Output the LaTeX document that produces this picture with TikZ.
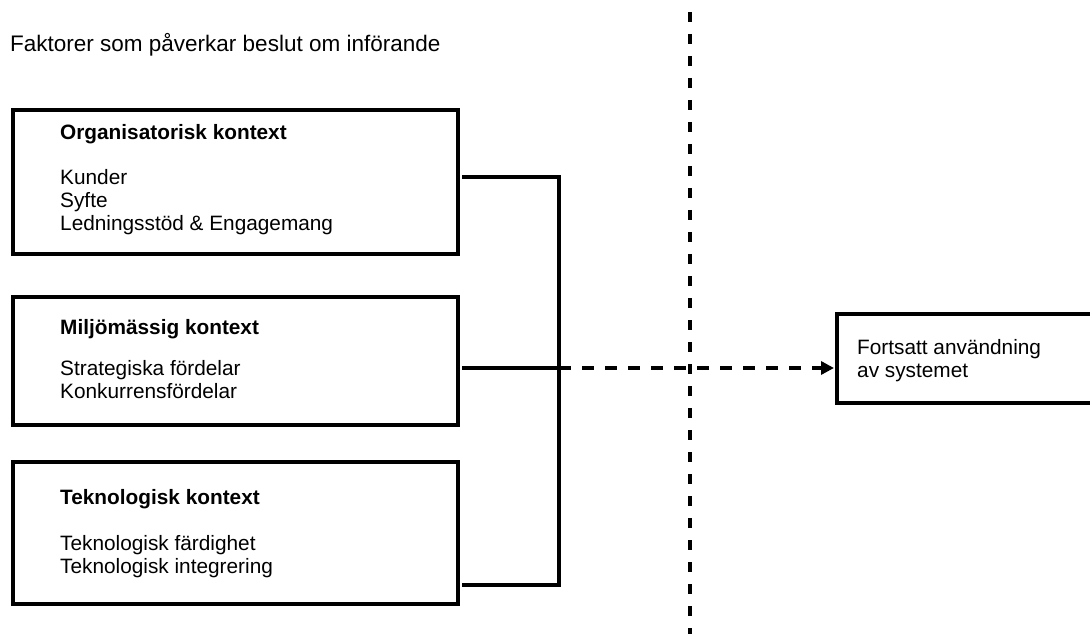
\documentclass[tikz,border=0pt]{standalone}
\usepackage{fontspec}
\setmainfont{Liberation Sans}
\usetikzlibrary{arrows.meta}
\begin{document}
\begin{tikzpicture}[x=1pt,y=-1pt,
  box/.style={draw=black, line width=4pt, rectangle, anchor=north west, inner sep=0pt},
  txt/.style={anchor=base west, inner sep=0pt, font=\fontsize{20.8}{23}\selectfont},
  ttl/.style={anchor=base west, inner sep=0pt, font=\fontsize{20.8}{23}\selectfont\bfseries},
  conn/.style={draw=black, line width=3.5pt},
  sep/.style={draw=black, line width=4pt, dash pattern=on 10pt off 12pt},
  flow/.style={draw=black, line width=3.5pt, dash pattern=on 12pt off 11pt, -{Triangle[length=13pt,width=13pt]}}
]
\useasboundingbox[fill=white] (0,0) rectangle (1090,639);

% heading
\node[anchor=base west, inner sep=0pt, font=\fontsize{22.5}{26}\selectfont] (head) at (10,52) {Faktorer som påverkar beslut om införande};

% separator
\coordinate (s1) at (690,12);
\coordinate (s2) at (690,634);
\draw[sep] (s1) -- (s2);

% boxes
\node[box, minimum width=445pt, minimum height=144pt] (org) at (11,108) {};
\node[box, minimum width=445pt, minimum height=128pt] (milj) at (11,295) {};
\node[box, minimum width=445pt, minimum height=142pt] (tek) at (11,460) {};
\node[box, minimum width=280pt, minimum height=89pt] (res) at (835,312) {};

% texts
\node[ttl] (orgT) at (60,140) {Organisatorisk kontext};
\node[txt] (org1) at (60,185) {Kunder};
\node[txt] (org2) at (60,208) {Syfte};
\node[txt] (org3) at (60,231) {Ledningsstöd \& Engagemang};

\node[ttl] (miljT) at (60,334) {Miljömässig kontext};
\node[txt] (milj1) at (60,375) {Strategiska fördelar};
\node[txt] (milj2) at (60,398) {Konkurrensfördelar};

\node[ttl] (tekT) at (60,504) {Teknologisk kontext};
\node[txt] (tek1) at (60,550) {Teknologisk färdighet};
\node[txt] (tek2) at (60,573) {Teknologisk integrering};

\node[txt] (res1) at (857,354) {Fortsatt användning};
\node[txt] (res2) at (857,377) {av systemet};

% connectors
\coordinate (j1) at (559,177);
\coordinate (j2) at (559,368);
\coordinate (j3) at (559,585);
\draw[conn] ([xshift=2pt]org.east |- j1) -- (j1) -- (j3) -- ([xshift=2pt]tek.east |- j3);
\draw[conn] ([xshift=2pt]milj.east |- j2) -- (j2);
\draw[flow] (j2) -- ([xshift=-1pt]res.west |- j2);
\end{tikzpicture}
\end{document}
